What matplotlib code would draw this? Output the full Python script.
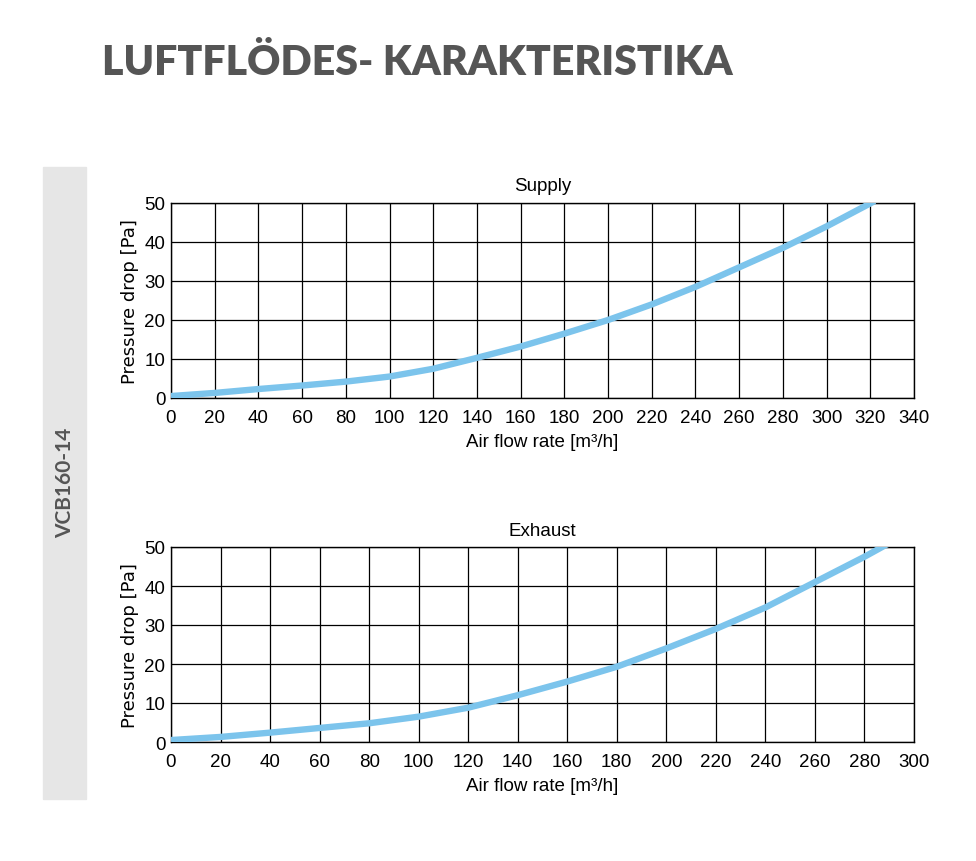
import matplotlib
matplotlib.use("Agg")
import matplotlib.pyplot as plt
from matplotlib.patches import Rectangle

supply_flow = [0, 20, 40, 60, 80, 100, 120, 140, 160, 180, 200, 220, 240, 260, 280, 300, 322]
supply_dp = [0.5, 1.3, 2.3, 3.2, 4.2, 5.5, 7.5, 10.3, 13.2, 16.5, 20.0, 24.0, 28.5, 33.5, 38.5, 44.0, 50.5]

exhaust_flow = [0, 20, 40, 60, 80, 100, 120, 140, 160, 180, 200, 220, 240, 260, 280, 290]
exhaust_dp = [0.5, 1.3, 2.4, 3.6, 4.8, 6.5, 8.8, 12.0, 15.5, 19.3, 24.0, 29.0, 34.5, 41.0, 47.5, 51.0]

supply_xticks = list(range(0, 341, 20))
exhaust_xticks = list(range(0, 301, 20))
yticks = [0, 10, 20, 30, 40, 50]

LINE = "#7cc4ec"
TICKFONT = ["Liberation Sans", "DejaVu Sans"]
HEADFONT = ["Lato", "Open Sans", "DejaVu Sans"]
W, H = 976, 862

fig = plt.figure(figsize=(W / 100, H / 100), dpi=100)

fig.text(102 / W, 1 - 63 / H, "LUFTFLÖDES- KARAKTERISTIKA", fontsize=29.5,
         fontweight="heavy", color="#555555", family=HEADFONT,
         va="center", ha="left")

# grey side band with the model name
fig.patches.append(Rectangle((43 / W, 1 - 800 / H), 43 / W, 632 / H,
                             transform=fig.transFigure, color="#e6e6e6", zorder=0))
fig.text(65 / W, 1 - 483 / H, "VCB160-14", rotation=90, fontsize=15,
         fontweight="bold", color="#555555", family=HEADFONT,
         va="center", ha="center")


def panel(top_px, flow, dp, xticks, title):
    ax = fig.add_axes([171 / W, 1 - (top_px + 195) / H, 743 / W, 195 / H])
    ax.plot(flow, dp, color=LINE, linewidth=4.6, solid_capstyle="butt", zorder=3)
    ax.set_xlim(xticks[0], xticks[-1])
    ax.set_ylim(0, 50)
    ax.set_xticks(xticks)
    ax.set_yticks(yticks)
    ax.grid(True, color="black", linewidth=0.9)
    ax.set_axisbelow(True)
    for s in ax.spines.values():
        s.set_linewidth(1.0)
    ax.tick_params(length=0, pad=4, labelsize=13.5)
    ax.tick_params(axis="x", pad=8)
    for lab in ax.get_xticklabels() + ax.get_yticklabels():
        lab.set_family(TICKFONT)
    ax.set_title(title, fontsize=13.5, family=TICKFONT, pad=9)
    ax.set_xlabel("Air flow rate [m³/h]", fontsize=13.5, family=TICKFONT, labelpad=5)
    ax.set_ylabel("Pressure drop [Pa]", fontsize=13, family=["DejaVu Sans"], labelpad=4)
    return ax


panel(204, supply_flow, supply_dp, supply_xticks, "Supply")
panel(548, exhaust_flow, exhaust_dp, exhaust_xticks, "Exhaust")

fig.savefig("out.png", dpi=100)
